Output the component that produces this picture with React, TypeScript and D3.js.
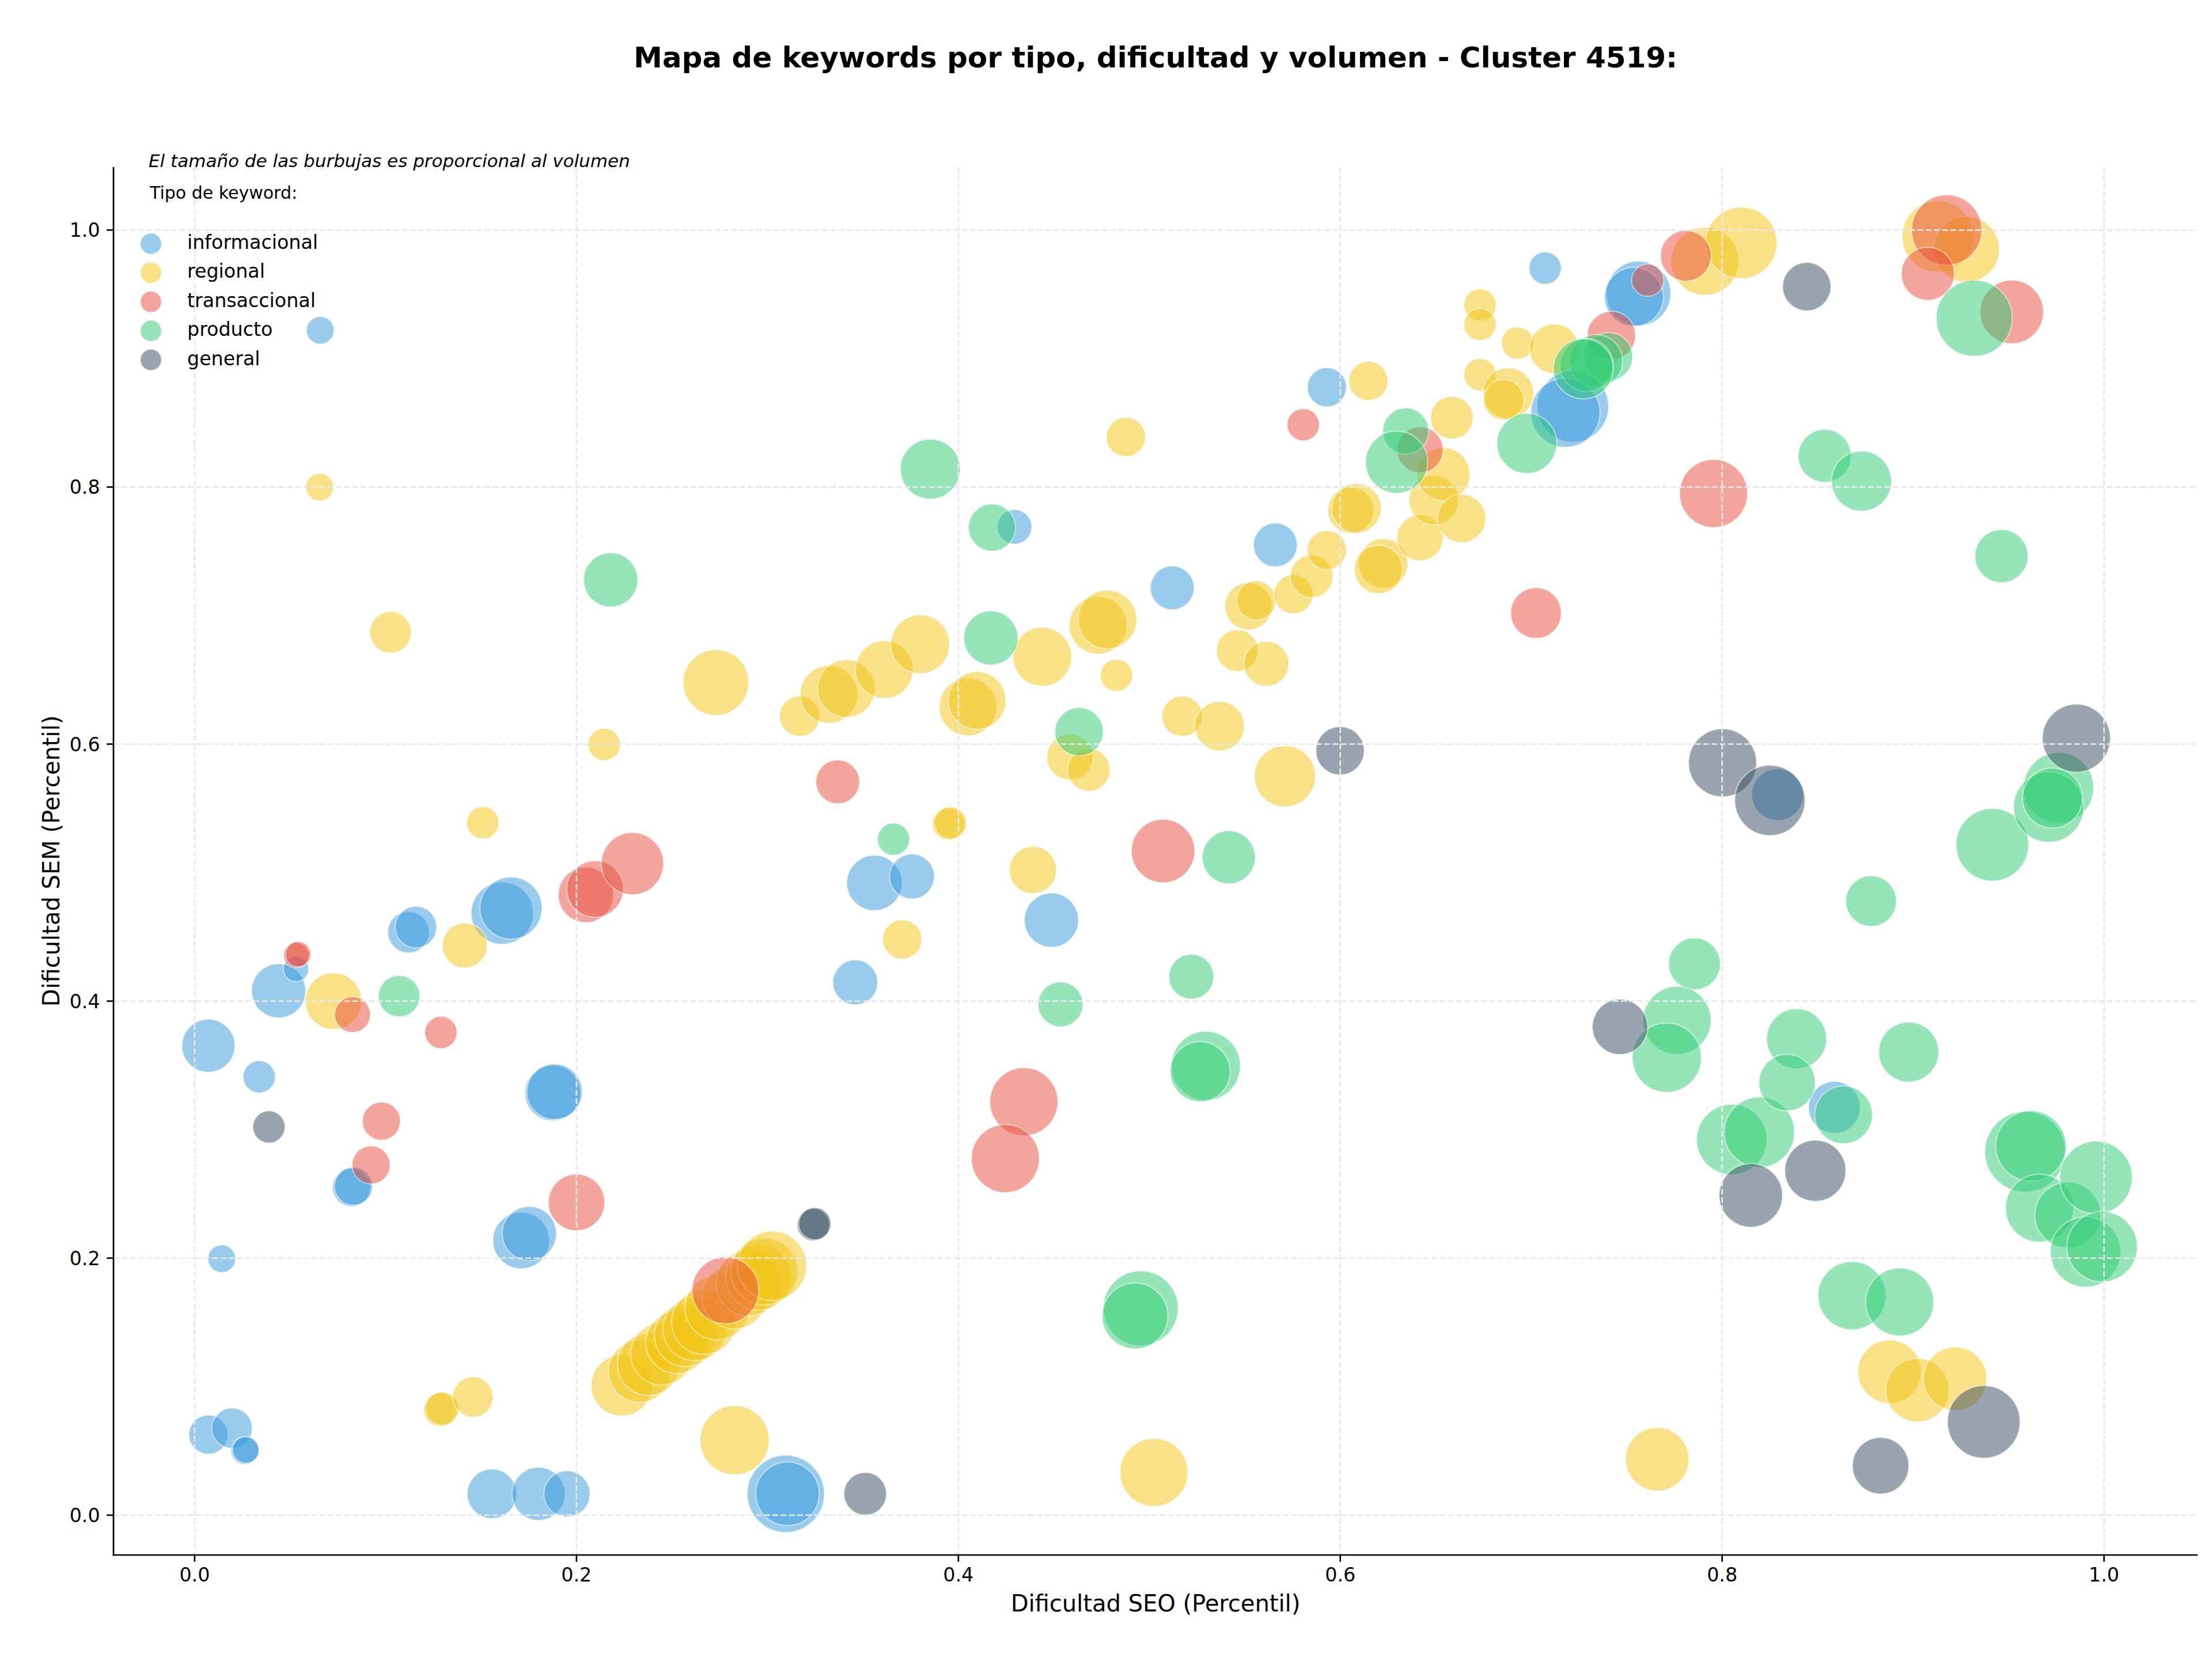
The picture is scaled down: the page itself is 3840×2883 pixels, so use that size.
import React from 'react';
import * as d3 from 'd3';

const WIDTH = 3840;
const HEIGHT = 2883;

const TITLE = 'Mapa de keywords por tipo, dificultad y volumen - Cluster 4519:';
const NOTE = 'El tamaño de las burbujas es proporcional al volumen';
const LEGEND_TITLE = 'Tipo de keyword:';
const X_LABEL = 'Dificultad SEO (Percentil)';
const Y_LABEL = 'Dificultad SEM (Percentil)';
const TICKS = [0, 0.2, 0.4, 0.6, 0.8, 1.0];

const TYPES = ['informacional', 'regional', 'transaccional', 'producto', 'general'];
const COLORS = ['#3498db', '#f1c40f', '#e74c3c', '#2ecc71', '#34495e'];

// Each keyword: [dificultad SEO, dificultad SEM, volumen]
const informacional: [number, number, number][] = [
  [0.0658, 0.922, 119], [0.0072, 0.3653, 437], [0.0338, 0.3411, 162], [0.0142, 0.1995, 119],
  [0.0072, 0.0627, 239], [0.0196, 0.0677, 253], [0.0263, 0.0502, 119], [0.0268, 0.0508, 110],
  [0.044, 0.408, 456], [0.0531, 0.425, 100], [0.112, 0.4536, 268], [0.1159, 0.4576, 268],
  [0.1611, 0.4684, 602], [0.1657, 0.4724, 602], [0.0822, 0.255, 225], [0.0832, 0.256, 225],
  [0.1875, 0.3285, 476], [0.1885, 0.3295, 476], [0.171, 0.2138, 496], [0.1753, 0.2192, 456],
  [0.1557, 0.0166, 382], [0.1801, 0.0166, 437], [0.195, 0.0166, 331], [0.3096, 0.0166, 927],
  [0.3105, 0.0166, 625], [0.346, 0.4146, 314], [0.356, 0.492, 476], [0.3757, 0.497, 314],
  [0.4487, 0.463, 456], [0.4294, 0.769, 186], [0.512, 0.7216, 298], [0.566, 0.755, 298],
  [0.593, 0.8777, 239], [0.7073, 0.9704, 162], [0.7218, 0.8628, 794], [0.7179, 0.8579, 744],
  [0.7562, 0.9507, 648], [0.7538, 0.948, 537], [0.8588, 0.3173, 418], [0.829, 0.5607, 418],
];

const regional: [number, number, number][] = [
  [0.0655, 0.8, 119], [0.1026, 0.687, 268], [0.2145, 0.5997, 162], [0.1509, 0.5388, 162],
  [0.1415, 0.4433, 314], [0.0727, 0.4, 496], [0.1286, 0.0821, 174], [0.1296, 0.0829, 174],
  [0.1457, 0.0919, 253],
  [0.2236, 0.1009, 580], [0.233, 0.112, 602], [0.2378, 0.1174, 602], [0.2447, 0.1255, 602],
  [0.2526, 0.1345, 602], [0.2571, 0.1398, 602], [0.2619, 0.1448, 625], [0.2667, 0.1502, 648],
  [0.2737, 0.1615, 648], [0.2827, 0.17, 648], [0.2903, 0.1806, 671], [0.2954, 0.1851, 671],
  [0.2984, 0.1896, 695], [0.3024, 0.1941, 744],
  [0.2828, 0.0583, 744], [0.5024, 0.0332, 719], [0.766, 0.0435, 625],
  [0.8877, 0.1116, 625], [0.9022, 0.0973, 625], [0.922, 0.1062, 625],
  [0.273, 0.648, 671], [0.3169, 0.6217, 253], [0.3322, 0.6387, 517], [0.3413, 0.6432, 517],
  [0.3612, 0.658, 517], [0.38, 0.6777, 537], [0.3706, 0.448, 239], [0.3948, 0.5379, 162],
  [0.3958, 0.5387, 162], [0.405, 0.629, 517], [0.4098, 0.634, 517], [0.4439, 0.668, 537],
  [0.439, 0.502, 347], [0.4584, 0.5899, 331], [0.4683, 0.58, 283], [0.4731, 0.6925, 517],
  [0.478, 0.697, 537], [0.4828, 0.6535, 162], [0.4877, 0.839, 239], [0.5172, 0.6217, 253],
  [0.5368, 0.614, 382], [0.546, 0.6728, 268], [0.5519, 0.7073, 347], [0.556, 0.7118, 239],
  [0.5613, 0.6625, 314], [0.571, 0.575, 580], [0.5755, 0.7167, 239], [0.585, 0.7306, 283],
  [0.593, 0.751, 239], [0.6055, 0.782, 331], [0.6085, 0.7835, 382], [0.6147, 0.8826, 239],
  [0.6225, 0.7405, 382], [0.62, 0.736, 364], [0.6418, 0.7606, 331], [0.649, 0.79, 382],
  [0.654, 0.81, 437], [0.6584, 0.854, 283], [0.6636, 0.7755, 364], [0.6732, 0.9417, 162],
  [0.6732, 0.9265, 162], [0.6732, 0.8875, 162], [0.688, 0.873, 400], [0.6856, 0.868, 253],
  [0.6928, 0.9121, 162], [0.712, 0.9077, 382], [0.791, 0.9758, 719], [0.81, 0.99, 794],
  [0.913, 0.995, 794], [0.928, 0.985, 671],
];

const transaccional: [number, number, number][] = [
  [0.0532, 0.4357, 100], [0.0542, 0.4365, 100], [0.0827, 0.3895, 199], [0.129, 0.3756, 162],
  [0.0978, 0.3066, 225], [0.0924, 0.2725, 225], [0.2049, 0.4827, 476], [0.2097, 0.4872, 496],
  [0.2293, 0.507, 602], [0.2, 0.2434, 496], [0.3368, 0.5706, 298], [0.278, 0.175, 695],
  [0.4343, 0.3217, 719], [0.4246, 0.2775, 719], [0.5072, 0.5168, 625], [0.5806, 0.8485, 162],
  [0.6418, 0.829, 331], [0.7025, 0.702, 400], [0.742, 0.918, 364], [0.761, 0.961, 162],
  [0.781, 0.98, 400], [0.7955, 0.795, 719], [0.9176, 1.0, 769], [0.9077, 0.966, 437],
  [0.9517, 0.9363, 625],
];

const producto: [number, number, number][] = [
  [0.1071, 0.4039, 268], [0.2179, 0.7278, 456], [0.366, 0.526, 162], [0.3853, 0.814, 559],
  [0.4176, 0.7685, 347], [0.417, 0.6826, 456], [0.4632, 0.6096, 364], [0.4535, 0.3975, 314],
  [0.522, 0.419, 314], [0.5416, 0.5119, 437], [0.5296, 0.3496, 744], [0.5266, 0.3451, 559],
  [0.4955, 0.161, 873], [0.4925, 0.155, 671], [0.6343, 0.8436, 331], [0.6295, 0.8194, 602],
  [0.6977, 0.834, 559], [0.7405, 0.9014, 364], [0.734, 0.898, 437], [0.729, 0.895, 437],
  [0.7273, 0.892, 559], [0.8537, 0.8243, 437], [0.873, 0.8046, 559], [0.932, 0.9314, 900],
  [0.9463, 0.7463, 437], [0.878, 0.4778, 400], [0.7855, 0.429, 418], [0.7764, 0.385, 719],
  [0.771, 0.356, 744], [0.805, 0.2923, 769], [0.8195, 0.298, 769], [0.839, 0.3707, 559],
  [0.834, 0.3366, 496], [0.8636, 0.3115, 517], [0.8977, 0.3604, 559], [0.868, 0.1708, 719],
  [0.893, 0.1659, 719], [0.9415, 0.5217, 820], [0.9762, 0.566, 769], [0.971, 0.551, 769],
  [0.973, 0.558, 559], [0.9587, 0.2828, 1012], [0.9617, 0.2873, 769], [0.9662, 0.2389, 719],
  [0.981, 0.2335, 671], [0.9958, 0.2627, 820], [0.9903, 0.2048, 769], [0.999, 0.2089, 769],
];

const general: [number, number, number][] = [
  [0.0389, 0.3021, 162], [0.324, 0.226, 162], [0.3248, 0.2268, 162], [0.3512, 0.0166, 283],
  [0.5999, 0.5948, 364], [0.7465, 0.38, 476], [0.8002, 0.5854, 719], [0.825, 0.5562, 769],
  [0.8443, 0.956, 364], [0.8488, 0.268, 580], [0.815, 0.2488, 625], [0.883, 0.0385, 496],
  [0.937, 0.0726, 820], [0.9855, 0.6046, 719],
];

const SERIES = [informacional, regional, transaccional, producto, general];

const PLOT = { left: 197, right: 3815, top: 290, bottom: 2699 };
const FONT = 'DejaVu Sans, sans-serif';

export default function App() {
  const x = d3.scaleLinear().domain([-0.0425, 1.049]).range([PLOT.left, PLOT.right]);
  const y = d3.scaleLinear().domain([-0.031, 1.049]).range([PLOT.bottom, PLOT.top]);
  const r = d3.scaleSqrt().domain([0, 1000]).range([0, 69.6]);
  const fmt = d3.format('.1f');
  const cx = (PLOT.left + PLOT.right) / 2;
  const cy = (PLOT.top + PLOT.bottom) / 2;
  const gridColor = '#e7e7e7';

  return (
    <svg
      width={WIDTH}
      height={HEIGHT}
      viewBox={`0 0 ${WIDTH} ${HEIGHT}`}
      style={{ position: 'absolute', left: 0, top: 0, background: '#fff' }}
      fontFamily={FONT}
    >
      <rect x={0} y={0} width={WIDTH} height={HEIGHT} fill="#fff" />
      <defs>
        <clipPath id="plot-area">
          <rect x={PLOT.left} y={PLOT.top} width={PLOT.right - PLOT.left} height={PLOT.bottom - PLOT.top} />
        </clipPath>
      </defs>

      {/* bubbles */}
      <g clipPath="url(#plot-area)">
        {SERIES.map((pts, i) => (
          <g key={TYPES[i]} fill={COLORS[i]} stroke="#ffffff" strokeWidth={2}>
            {pts.map((d, j) => (
              <circle key={j} cx={x(d[0])} cy={y(d[1])} r={r(d[2])} fillOpacity={0.5} strokeOpacity={0.5} />
            ))}
          </g>
        ))}
      </g>

      {/* grid, drawn above the bubbles */}
      <g stroke={gridColor} strokeWidth={2.7} strokeDasharray="10,4.3">
        {TICKS.map((t) => (
          <line key={`gx${t}`} x1={x(t)} x2={x(t)} y1={PLOT.top} y2={PLOT.bottom} />
        ))}
        {TICKS.map((t) => (
          <line key={`gy${t}`} x1={PLOT.left} x2={PLOT.right} y1={y(t)} y2={y(t)} />
        ))}
      </g>

      {/* spines */}
      <line x1={PLOT.left} x2={PLOT.left} y1={PLOT.top} y2={PLOT.bottom + 1.35} stroke="#000" strokeWidth={2.7} />
      <line x1={PLOT.left - 1.35} x2={PLOT.right} y1={PLOT.bottom} y2={PLOT.bottom} stroke="#000" strokeWidth={2.7} />

      {/* x axis ticks */}
      <g>
        {TICKS.map((t) => (
          <g key={`xt${t}`}>
            <line x1={x(t)} x2={x(t)} y1={PLOT.bottom} y2={PLOT.bottom + 11.7} stroke="#000" strokeWidth={2.7} />
            <text x={x(t)} y={2745} textAnchor="middle" fontSize={33.3} fill="#000">{fmt(t)}</text>
          </g>
        ))}
      </g>

      {/* y axis ticks */}
      <g>
        {TICKS.map((t) => (
          <g key={`yt${t}`}>
            <line x1={PLOT.left - 11.7} x2={PLOT.left} y1={y(t)} y2={y(t)} stroke="#000" strokeWidth={2.7} />
            <text x={PLOT.left - 23.4} y={y(t)} dy="0.36em" textAnchor="end" fontSize={33.3} fill="#000">{fmt(t)}</text>
          </g>
        ))}
      </g>

      {/* axis labels */}
      <text x={cx} y={2797} textAnchor="middle" fontSize={40} fill="#000">{X_LABEL}</text>
      <text transform={`translate(103, ${cy}) rotate(-90)`} textAnchor="middle" fontSize={40} fill="#000">{Y_LABEL}</text>

      {/* title */}
      <text x={cx} y={117} textAnchor="middle" fontSize={50} fontWeight="bold" fill="#000">{TITLE}</text>

      {/* note */}
      <text x={258} y={290} fontSize={31} fontStyle="italic" fill="#000">{NOTE}</text>

      {/* legend */}
      <text x={260} y={345} fontSize={30} fill="#000">{LEGEND_TITLE}</text>
      {TYPES.map((t, i) => {
        const ry = 423 + i * 50.4;
        return (
          <g key={`lg${t}`}>
            <circle cx={262} cy={ry} r={18.5} fill={COLORS[i]} fillOpacity={0.5} stroke="#fff" strokeOpacity={0.5} strokeWidth={2} />
            <text x={325} y={ry + 9} fontSize={33.3} fill="#000">{t}</text>
          </g>
        );
      })}
    </svg>
  );
}
